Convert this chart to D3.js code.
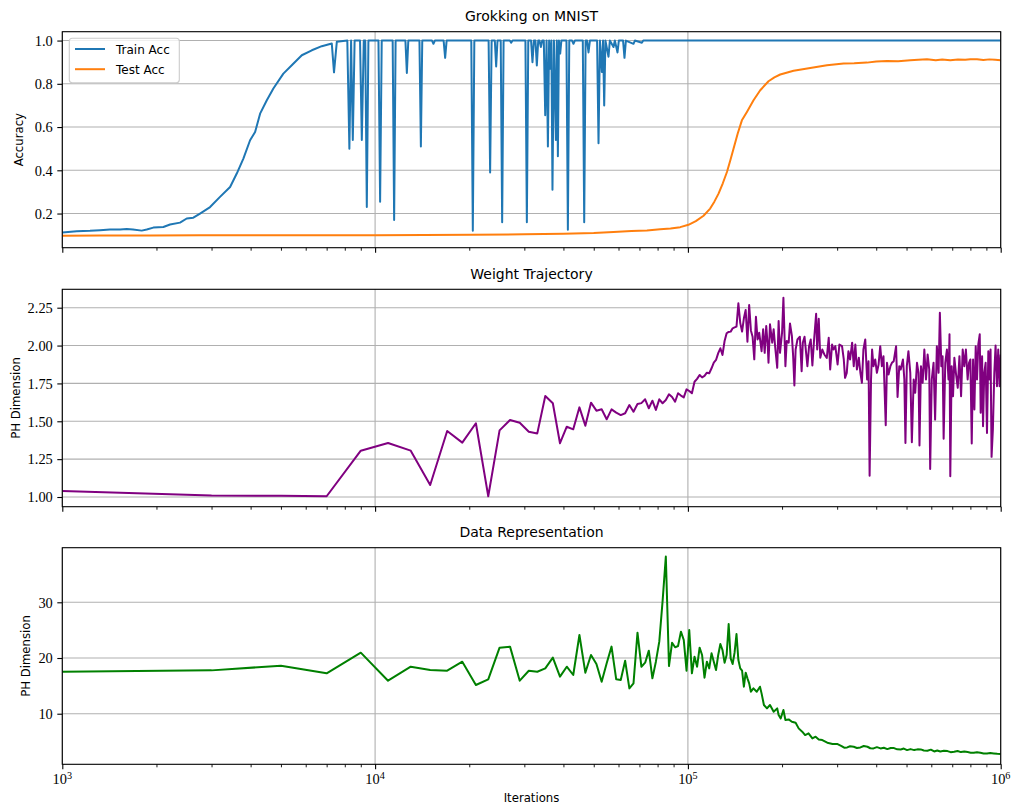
<!DOCTYPE html>
<html><head><meta charset="utf-8">
<script src="https://cdn.jsdelivr.net/npm/d3@7"></script>
<style>body{margin:0;background:#fff}svg{display:block}</style>
</head><body>
<svg id="chart" width="1011" height="807"></svg>
<script>
// ---------------- DATA ----------------
const xTickValues = [1e3, 1e4, 1e5, 1e6];
const xTickExponents = ["3", "4", "5", "6"];
const accTicks = [0.2, 0.4, 0.6, 0.8, 1.0];
const weightTicks = [1.00, 1.25, 1.50, 1.75, 2.00, 2.25];
const dataTicks = [10, 20, 30];
const seriesNames = ["Train Acc", "Test Acc"];

const trainIter = [1000,1112,1226,1320,1420,1530,1607,1683,1794,1862,1954,2104,2210,2379,2499,2624,2756,2968,3193,3439,3612,3792,3984,4134,4289,4506,4729,5090,5415,5830,6276,6754,7270,7390,7544,7900,8150,8275,8380,8486,8600,8950,9068,9200,9300,9408,9520,10250,10376,10500,11380,11504,11630,12500,12633,12770,13860,14007,14150,15200,15365,15530,16560,16746,16930,20300,20530,20760,23060,23320,23580,24140,24380,24620,25210,25480,25750,26950,27230,27510,30240,30560,30880,31520,31850,32180,32550,32890,33230,33530,33880,34230,34620,34980,35330,35680,36000,36290,36600,36900,37300,37840,38100,38400,38700,39060,39400,40900,41330,41760,42620,43070,43520,46130,46610,47100,47610,48110,48610,51250,51790,52340,53090,53550,54000,54500,55740,56300,57830,58400,59560,60150,62050,62700,63350,66990,67700,71260,72000,1000000];
const trainAcc = [0.112,0.118,0.120,0.123,0.126,0.126,0.128,0.126,0.121,0.126,0.135,0.138,0.149,0.158,0.177,0.181,0.200,0.230,0.277,0.323,0.385,0.454,0.539,0.577,0.662,0.724,0.778,0.847,0.886,0.932,0.955,0.974,0.986,0.853,0.994,0.998,1.0,0.50,1.0,0.54,1.0,1.0,0.54,1.0,1.0,0.23,1.0,1.0,0.255,1.0,1.0,0.17,1.0,1.0,0.85,1.0,1.0,0.51,1.0,1.0,0.985,1.0,1.0,0.92,1.0,1.0,0.12,1.0,1.0,0.39,1.0,1.0,0.88,1.0,1.0,0.16,1.0,1.0,0.99,1.0,1.0,0.16,1.0,1.0,0.90,1.0,1.0,0.885,1.0,1.0,0.97,1.0,1.0,0.655,1.0,0.51,1.0,0.87,1.0,0.31,1.0,0.54,1.0,0.465,1.0,0.94,1.0,1.0,0.125,1.0,1.0,0.985,1.0,1.0,0.16,1.0,1.0,0.945,1.0,1.0,0.525,1.0,0.855,1.0,0.70,1.0,0.925,1.0,0.97,1.0,0.945,1.0,1.0,0.92,1.0,0.985,1.0,0.99,1.0,1.0];

const testIter = [1000,1320,1906,2756,4967,10000,20530,30000,40000,50000,57830,66000,73950,81530,88000,94500,100400,106000,112200,117800,121500,125300,129300,133300,136600,139900,144300,148800,154400,162100,170300,181000,189000,197300,217700,246100,278300,314600,340000,373600,400000,432900,470000,513900,545000,581300,620000,650000,690000,730000,770000,800000,840300,880000,920000,960000,1000000];
const testAcc = [0.097,0.098,0.099,0.100,0.100,0.100,0.102,0.104,0.107,0.110,0.115,0.119,0.122,0.127,0.131,0.137,0.148,0.165,0.190,0.223,0.255,0.292,0.340,0.392,0.445,0.500,0.570,0.631,0.670,0.724,0.770,0.812,0.830,0.843,0.860,0.873,0.886,0.894,0.895,0.898,0.903,0.906,0.904,0.909,0.911,0.914,0.909,0.912,0.909,0.912,0.911,0.914,0.914,0.910,0.913,0.911,0.909];

// weight-trajectory PH dimension, logged every 2000 iterations (early part)
const weightIterEarly = d3.range(1000, 166000, 2000);
const weightDimEarly = [1.04,1.01,1.008,1.005,1.306,1.357,1.306,1.079,1.436,1.359,1.487,1.005,1.44,1.508,1.49,1.431,1.42,1.667,1.619,1.355,1.464,1.447,1.592,1.471,1.623,1.57,1.579,1.513,1.579,1.557,1.541,1.553,1.607,1.563,1.614,1.62,1.645,1.586,1.636,1.575,1.645,1.619,1.64,1.678,1.66,1.629,1.685,1.67,1.658,1.711,1.70,1.685,1.761,1.78,1.806,1.79,1.80,1.821,1.817,1.85,1.887,1.905,1.95,1.982,1.938,2.03,2.081,2.09,2.092,2.114,2.12,2.125,2.279,2.15,2.092,2.18,2.235,2.025,2.268,2.10,2.058,1.909,2.19];
const weightIterLate = [167000,169000,172000,174000,176000,178000,180000,181000,183000,186000,188000,190000,193000,195000,197000,200000,202000,205000,207000,210000,212000,215000,217000,219000,221000,224000,228000,231000,233000,236000,239000,241000,244000,247000,250000,253000,257000,259000,262000,265000,269000,273000,278000,282000,285000,289000,292000,296000,301000,305000,311000,315000,318000,322000,326000,330000,335000,339000,343000,347000,352000,356000,360000,364000,369000,374000,378000,381000,385000,388000,392000,397000,402000,407000,412000,417000,422000,429000,433000,438000,444000,449000,455000,463000,468000,474000,479000,487000,492000,496000,501000,507000,514000,520000,527000,533000,540000,546000,550000,556000,563000,570000,577000,584000,591000,595000,602000,610000,617000,625000,633000,639000,646000,652000,657000,665000,673000,681000,686000,690000,697000,704000,711000,719000,729000,738000,747000,756000,765000,774000,784000,792000,800000,808000,816000,824000,832000,840000,848000,857000,863000,872000,878000,886000,895000,904000,913000,922000,928000,935000,944000,954000,963000,973000,982000,992000,1000000];
const weightDimLate = [2.04,2.085,1.963,2.107,1.952,2.129,1.996,1.886,2.14,2.019,2.107,1.996,1.853,2.162,1.952,2.085,2.316,1.864,2.03,2.019,2.146,2.063,1.93,1.736,1.974,2.04,2.058,1.831,2.019,2.058,1.941,1.864,1.996,2.04,1.869,2.03,2.21,1.974,2.177,1.919,1.974,1.941,1.919,2.052,1.842,2.007,1.974,1.996,1.875,2.007,1.996,1.908,1.787,1.82,1.963,1.908,2.019,1.864,2.007,1.842,1.919,1.82,1.754,1.974,2.04,1.776,1.897,1.141,1.776,1.974,1.864,1.908,1.82,1.875,1.996,1.864,1.93,1.474,1.886,1.809,1.864,1.886,1.897,1.996,1.661,1.864,1.842,1.908,1.776,1.357,1.864,1.963,1.82,1.362,1.776,1.688,1.886,1.82,1.34,1.864,1.754,1.974,1.776,1.941,1.842,1.185,1.776,1.886,1.511,1.996,1.82,2.217,1.864,1.93,1.384,1.886,1.974,1.776,2.074,1.137,1.864,1.666,1.919,1.82,1.721,1.93,1.666,1.974,1.864,1.974,1.776,1.886,1.908,1.353,1.908,1.578,1.996,1.776,2.007,2.074,1.556,1.93,1.467,1.82,1.886,1.423,1.963,1.776,1.974,1.265,1.445,1.82,2.0,1.732,1.974,1.732,1.941];

// data-representation PH dimension
const reprIterEarly = d3.range(1000, 160000, 2000);
const reprDimEarly = [17.54,17.78,18.62,17.25,20.96,15.93,18.44,17.84,17.72,19.34,15.15,16.17,21.86,22.04,15.93,17.72,17.54,18.14,20.06,16.65,18.44,16.95,24.13,17.37,20.54,18.92,15.75,19.04,22.04,16.17,16.05,19.52,14.55,15.45,24.55,18.44,19.16,21.32,16.35,19.34,22.93,30.2,38.2,18.56,22.75,21.92,22.16,24.73,23.23,17.72,25.03,17.25,20.24,18.44,21.86,20.54,16.47,19.34,18.14,20.84,19.34,17.84,20.54,22.51,21.44,19.16,20.54,26.11,19.94,18.92,20.96,24.31,19.64,18.14,17.72,14.85,17.37,16.35,15.45,13.95];
const reprIterLate = [162000,166000,170000,172000,175000,179000,183000,188000,193000,195000,198000,202000,205000,210000,215000,221000,226000,232000,237000,243000,250000,256000,262000,269000,279000,290000,301000,310000,316000,323000,330000,339000,347000,356000,365000,375000,383000,392000,402000,413000,423000,434000,445000,456000,467000,479000,490000,502000,515000,529000,542000,555000,568000,583000,598000,613000,627000,641000,658000,676000,692000,710000,728000,746000,765000,784000,802000,820000,840000,861000,882000,904000,926000,950000,975000,1000000];
const reprDimLate = [14.55,13.95,14.85,13.65,11.56,10.96,11.56,10.36,10.96,9.76,9.16,10.66,8.86,8.98,8.56,8.38,7.37,6.77,6.17,6.47,5.57,5.87,5.39,5.27,4.79,4.55,4.55,4.19,3.9,3.95,4.15,4.07,3.85,3.95,4.2,4.07,3.8,3.77,4.0,3.77,3.9,3.65,3.85,3.83,3.6,3.59,3.75,3.47,3.65,3.47,3.6,3.59,3.4,3.35,3.55,3.23,3.4,3.23,3.35,3.29,3.1,3.17,3.3,3.11,3.2,3.11,3.0,2.99,3.1,2.99,2.85,2.87,2.95,2.87,2.8,2.75];

// ---------------- CHART ----------------
const SANS = "'DejaVu Sans', sans-serif";
const SERIF = "'Liberation Serif', 'DejaVu Serif', serif";
const svg = d3.select("#chart");
const X0 = 62.3, X1 = 1000.7;
const x = d3.scaleLog().domain([1e3, 1e6]).range([X0, X1]);

const minorTicks = [];
[1e3, 1e4, 1e5].forEach(d => { for (let k = 2; k <= 9; k++) minorTicks.push(d * k); });

const panels = [
  { top: 31.7, bottom: 247.7, domain: [0.042, 1.041], ticks: accTicks, fmt: d3.format(".1f"),
    title: "Grokking on MNIST", ylabel: "Accuracy", ylabelX: 23,
    series: [
      { data: d3.zip(trainIter, trainAcc), color: "#1f77b4" },
      { data: d3.zip(testIter, testAcc), color: "#ff7f0e" }
    ] },
  { top: 289.3, bottom: 506.7, domain: [0.936, 2.3715], ticks: weightTicks, fmt: d3.format(".2f"),
    title: "Weight Trajectory", ylabel: "PH Dimension", ylabelX: 19.5,
    series: [
      { data: d3.zip(weightIterEarly.concat(weightIterLate), weightDimEarly.concat(weightDimLate)), color: "#800080" }
    ] },
  { top: 547.7, bottom: 764.3, domain: [0.92, 39.8], ticks: dataTicks, fmt: d3.format("d"),
    title: "Data Representation", ylabel: "PH Dimension", ylabelX: 29.5,
    series: [
      { data: d3.zip(reprIterEarly.concat(reprIterLate), reprDimEarly.concat(reprDimLate)), color: "#008000" }
    ] }
];

panels.forEach((p, i) => {
  const y = d3.scaleLinear().domain(p.domain).range([p.bottom, p.top]);
  const g = svg.append("g");
  const clipId = "clip" + i;
  svg.append("clipPath").attr("id", clipId).append("rect")
    .attr("x", X0).attr("y", p.top).attr("width", X1 - X0).attr("height", p.bottom - p.top);

  // grid
  const grid = g.append("g").attr("stroke", "#b0b0b0").attr("stroke-width", 1.1);
  p.ticks.forEach(t => grid.append("line").attr("x1", X0).attr("x2", X1).attr("y1", y(t)).attr("y2", y(t)));
  xTickValues.forEach(t => grid.append("line").attr("x1", x(t)).attr("x2", x(t)).attr("y1", p.top).attr("y2", p.bottom));

  // series
  const line = d3.line().x(d => x(d[0])).y(d => y(d[1]));
  const sg = g.append("g").attr("clip-path", `url(#${clipId})`);
  p.series.forEach(s => {
    sg.append("path").datum(s.data).attr("d", line)
      .attr("fill", "none").attr("stroke", s.color).attr("stroke-width", 2)
      .attr("stroke-linejoin", "round");
  });

  // y axis
  const ya = g.append("g").attr("transform", `translate(${X0},0)`)
    .call(d3.axisLeft(y).tickValues(p.ticks).tickSize(5).tickPadding(4.5).tickFormat(p.fmt));
  ya.select(".domain").remove();
  ya.selectAll(".tick line").attr("stroke", "#000").attr("stroke-width", 1.1);
  ya.selectAll(".tick text").attr("font-family", SERIF).attr("font-size", 14.4).attr("fill", "#000").attr("dy", "0.33em");

  // x axis (major + minor)
  const xa = g.append("g").attr("transform", `translate(0,${p.bottom})`)
    .call(d3.axisBottom(x).tickValues(xTickValues).tickSize(5).tickFormat(""));
  xa.select(".domain").remove();
  xa.selectAll(".tick line").attr("stroke", "#000").attr("stroke-width", 1.1);
  const xm = g.append("g").attr("transform", `translate(0,${p.bottom})`)
    .call(d3.axisBottom(x).tickValues(minorTicks).tickSize(3).tickFormat(""));
  xm.select(".domain").remove();
  xm.selectAll(".tick line").attr("stroke", "#000").attr("stroke-width", 0.9);

  // spines
  g.append("rect").attr("x", X0).attr("y", p.top).attr("width", X1 - X0).attr("height", p.bottom - p.top)
    .attr("fill", "none").attr("stroke", "#000").attr("stroke-width", 1.1);

  // title
  g.append("text").attr("x", (X0 + X1) / 2).attr("y", p.top - 10.5).attr("text-anchor", "middle")
    .attr("font-family", SANS).attr("font-size", 14).attr("fill", "#000").text(p.title);

  // y label
  g.append("text").attr("transform", `translate(${p.ylabelX},${(p.top + p.bottom) / 2}) rotate(-90)`)
    .attr("text-anchor", "middle").attr("font-family", SANS).attr("font-size", 11.7).attr("fill", "#000")
    .text(p.ylabel);

  if (i === panels.length - 1) {
    xTickValues.forEach((t, k) => {
      const tx = g.append("text").attr("x", x(t)).attr("y", p.bottom + 20).attr("text-anchor", "middle")
        .attr("font-family", SERIF).attr("font-size", 14.4).attr("fill", "#000");
      tx.append("tspan").text("10");
      tx.append("tspan").attr("dy", -5.2).attr("font-size", 10.2).text(xTickExponents[k]);
    });
    g.append("text").attr("x", (X0 + X1) / 2).attr("y", 802).attr("text-anchor", "middle")
      .attr("font-family", SANS).attr("font-size", 11.7).attr("fill", "#000").text("Iterations");
  }

  if (i === 0) {
    const lg = g.append("g");
    lg.append("rect").attr("x", 69.3).attr("y", 38.3).attr("width", 110).attr("height", 44.4).attr("rx", 3)
      .attr("fill", "#fff").attr("fill-opacity", 0.8).attr("stroke", "#cccccc").attr("stroke-width", 1.1);
    p.series.forEach((s, k) => {
      const ly = 49 + k * 20.2;
      lg.append("line").attr("x1", 75).attr("x2", 105).attr("y1", ly).attr("y2", ly)
        .attr("stroke", s.color).attr("stroke-width", 2);
      lg.append("text").attr("x", 116).attr("y", ly + 4.5).attr("font-family", SANS).attr("font-size", 12)
        .attr("fill", "#000").text(seriesNames[k]);
    });
  }
});
</script>
</body></html>
